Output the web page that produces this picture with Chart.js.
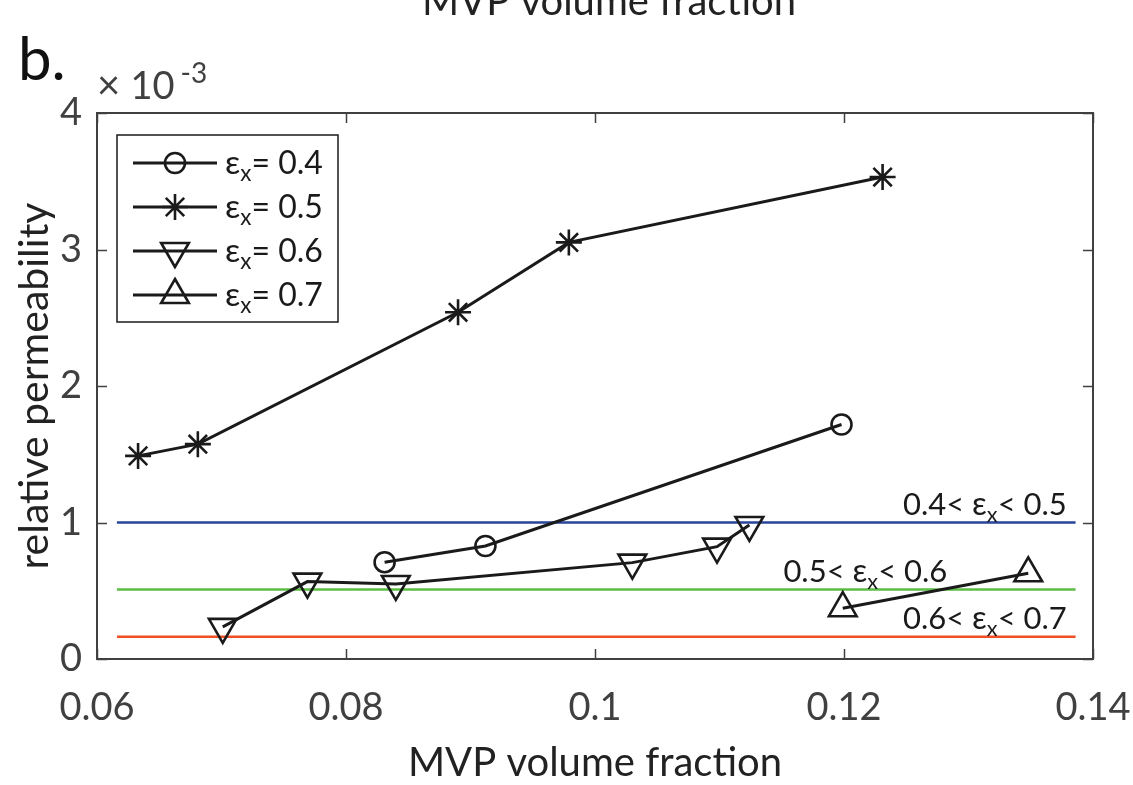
<!DOCTYPE html>
<html>
<head>
<meta charset="utf-8">
<script src="https://cdn.jsdelivr.net/npm/chart.js@4"></script>
<style>
html, body { margin: 0; padding: 0; background: #fff; }
</style>
</head>
<body>
<canvas id="grafico" width="1133" height="785"></canvas>
<script>
// dados (permeabilidade relativa em unidades de 1e-3)
const epsValores = [0.4, 0.5, 0.6, 0.7];

const xEps04 = [0.0831, 0.0912, 0.1198];
const yEps04 = [0.709, 0.828, 1.718];

const xEps05 = [0.0633, 0.0681, 0.0890, 0.0979, 0.1231];
const yEps05 = [1.488, 1.574, 2.54, 3.052, 3.531];

const xEps06 = [0.0701, 0.0769, 0.0840, 0.1030, 0.1098, 0.1124];
const yEps06 = [0.235, 0.567, 0.55, 0.706, 0.823, 0.982];

const xEps07 = [0.1199, 0.1348];
const yEps07 = [0.372, 0.628];

// limites horizontais
const limiteValores = [1.0, 0.51, 0.163];
const limiteCores = ['#25449a', '#5cbd45', '#f04e26'];
const limiteFaixas = [['0.4', '0.5'], ['0.5', '0.6'], ['0.6', '0.7']];
const limiteX = [0.0616, 0.1386];

const xTicks = [0.06, 0.08, 0.1, 0.12, 0.14];
const yTicks = [0, 1, 2, 3, 4];

const FONTE = 'Lato, "Open Sans", sans-serif';
const CINZA = '#404040';

function pontos(xs, ys) {
  return xs.map((x, i) => ({ x: x, y: ys[i] }));
}

const series = [
  { data: pontos(xEps04, yEps04), estilo: 'circle', raio: 10, rot: 0 },
  { data: pontos(xEps05, yEps05), estilo: 'star', raio: 13, rot: 0 },
  { data: pontos(xEps06, yEps06), estilo: 'triangle', raio: 16, rot: 180 },
  { data: pontos(xEps07, yEps07), estilo: 'triangle', raio: 16, rot: 0 }
];

const datasets = series.map((s, i) => ({
  label: 'eps ' + epsValores[i],
  data: s.data,
  showLine: true,
  borderColor: '#1a1a1a',
  borderWidth: 3,
  pointStyle: s.estilo,
  pointRadius: s.raio,
  pointRotation: s.rot,
  pointBorderWidth: 2.6,
  pointBorderColor: '#1a1a1a',
  pointBackgroundColor: 'rgba(255,255,255,0)'
}));

limiteValores.forEach((v, i) => {
  datasets.push({
    label: 'limite ' + i,
    data: limiteX.map(x => ({ x: x, y: v })),
    showLine: true,
    borderColor: limiteCores[i],
    borderWidth: 2.5,
    pointRadius: 0
  });
});

// desenha texto com subscrito "x" depois do epsilon
function textoEps(ctx, antes, depois, x, y, tam, alinhar) {
  const partes = [
    { t: antes, f: tam, dy: 0 },
    { t: '\u03b5', f: tam * 1.05, dy: 0 },
    { t: 'x', f: tam * 0.7, dy: tam * 0.22 },
    { t: depois, f: tam, dy: 0 }
  ];
  let total = 0;
  partes.forEach(p => {
    ctx.font = p.f + 'px ' + FONTE;
    p.w = ctx.measureText(p.t).width;
    total += p.w;
  });
  let cx = alinhar === 'right' ? x - total : x;
  ctx.textAlign = 'left';
  ctx.textBaseline = 'alphabetic';
  partes.forEach(p => {
    ctx.font = p.f + 'px ' + FONTE;
    ctx.fillText(p.t, cx, y + p.dy);
    cx += p.w;
  });
}

function marcador(ctx, estilo, rot, raio, x, y) {
  ctx.save();
  ctx.translate(x, y);
  ctx.rotate(rot * Math.PI / 180);
  ctx.beginPath();
  if (estilo === 'circle') {
    ctx.arc(0, 0, raio, 0, Math.PI * 2);
  } else if (estilo === 'triangle') {
    for (let k = 0; k < 3; k++) {
      const a = k * 2 * Math.PI / 3;
      const px = Math.sin(a) * raio, py = -Math.cos(a) * raio;
      if (k === 0) ctx.moveTo(px, py); else ctx.lineTo(px, py);
    }
    ctx.closePath();
  } else {
    for (let k = 0; k < 4; k++) {
      const a = k * Math.PI / 4;
      ctx.moveTo(Math.cos(a) * raio, Math.sin(a) * raio);
      ctx.lineTo(-Math.cos(a) * raio, -Math.sin(a) * raio);
    }
  }
  ctx.stroke();
  ctx.restore();
}

const extras = {
  id: 'extras',
  afterDraw(chart) {
    const ctx = chart.ctx;
    const area = chart.chartArea;
    const sx = chart.scales.x, sy = chart.scales.y;
    ctx.save();

    // caixa do eixo
    ctx.strokeStyle = CINZA;
    ctx.lineWidth = 2;
    ctx.strokeRect(area.left, area.top, area.right - area.left, area.bottom - area.top);

    // marcas dos ticks para dentro
    ctx.beginPath();
    xTicks.forEach(v => {
      const px = Math.round(sx.getPixelForValue(v)) + 0.5;
      ctx.moveTo(px, area.bottom); ctx.lineTo(px, area.bottom - 10);
      ctx.moveTo(px, area.top); ctx.lineTo(px, area.top + 10);
    });
    yTicks.forEach(v => {
      const py = Math.round(sy.getPixelForValue(v)) + 0.5;
      ctx.moveTo(area.left, py); ctx.lineTo(area.left + 10, py);
      ctx.moveTo(area.right, py); ctx.lineTo(area.right - 10, py);
    });
    ctx.lineWidth = 1.5;
    ctx.stroke();

    // rotulos das faixas
    ctx.fillStyle = '#1a1a1a';
    const rotulos = [
      { x: 0.1379, y: 1.056 },
      { x: 0.1283, y: 0.565 },
      { x: 0.1379, y: 0.22 }
    ];
    rotulos.forEach((r, i) => {
      textoEps(ctx, limiteFaixas[i][0] + '< ', '< ' + limiteFaixas[i][1],
        sx.getPixelForValue(r.x), sy.getPixelForValue(r.y), 31, 'right');
    });

    // legenda
    const lx = area.left + 20, ly = area.top + 22;
    ctx.fillStyle = '#fff';
    ctx.fillRect(lx, ly, 221, 187);
    ctx.strokeStyle = '#1a1a1a';
    ctx.lineWidth = 1.5;
    ctx.strokeRect(lx, ly, 221, 187);
    series.forEach((s, i) => {
      const yy = ly + 28 + i * 44;
      ctx.strokeStyle = '#1a1a1a';
      ctx.lineWidth = 3;
      ctx.beginPath();
      ctx.moveTo(lx + 16, yy); ctx.lineTo(lx + 100, yy);
      ctx.stroke();
      ctx.lineWidth = 2.6;
      marcador(ctx, s.estilo, s.rot, s.raio, lx + 58, yy);
      ctx.fillStyle = '#1a1a1a';
      textoEps(ctx, '', '= ' + epsValores[i], lx + 108, yy + 11, 32, 'left');
    });

    // multiplicador do eixo y
    ctx.fillStyle = CINZA;
    ctx.textAlign = 'left';
    ctx.textBaseline = 'alphabetic';
    ctx.font = '40px ' + FONTE;
    ctx.fillText('\u00d7', area.left, area.top - 14);
    const wx = ctx.measureText('\u00d7 ').width;
    ctx.font = '38px ' + FONTE;
    ctx.fillText('10', area.left + wx, area.top - 14);
    const w10 = ctx.measureText('10').width;
    ctx.font = '28px ' + FONTE;
    ctx.fillText('-3', area.left + wx + w10 + 6, area.top - 30);

    // letra do painel e titulo cortado no topo
    ctx.fillStyle = '#111';
    ctx.font = '60px ' + FONTE;
    ctx.fillText('b.', 18, 80);
    ctx.textAlign = 'center';
    ctx.font = '40px ' + FONTE;
    ctx.fillStyle = '#222';
    ctx.fillText('MVP volume fraction', 609, 15);

    ctx.restore();
  }
};

new Chart(document.getElementById('grafico').getContext('2d'), {
  type: 'scatter',
  data: { datasets: datasets },
  options: {
    responsive: false,
    devicePixelRatio: 1,
    animation: false,
    layout: { padding: { top: 113, right: 40, left: 0, bottom: 0 } },
    plugins: { legend: { display: false }, tooltip: { enabled: false } },
    scales: {
      x: {
        type: 'linear',
        min: 0.06,
        max: 0.14,
        afterBuildTicks: s => { s.ticks = xTicks.map(v => ({ value: v })); },
        afterFit: s => { s.height = 126; s.paddingLeft = 0; s.paddingRight = 0; },
        grid: { display: false, drawTicks: false },
        border: { display: false },
        ticks: {
          color: CINZA,
          font: { family: FONTE, size: 38 },
          padding: 26,
          maxRotation: 0,
          callback: v => String(Number(v.toFixed(2)))
        },
        title: {
          display: true,
          text: 'MVP volume fraction',
          color: '#222',
          font: { family: FONTE, size: 40, lineHeight: 1 },
          padding: { top: 0, bottom: 2 }
        }
      },
      y: {
        type: 'linear',
        min: 0,
        max: 4,
        afterBuildTicks: s => { s.ticks = yTicks.map(v => ({ value: v })); },
        afterFit: s => { s.width = 97; s.paddingTop = 0; s.paddingBottom = 0; },
        grid: { display: false, drawTicks: false },
        border: { display: false },
        ticks: {
          color: CINZA,
          font: { family: FONTE, size: 38 },
          padding: 15
        },
        title: {
          display: true,
          text: 'relative permeability',
          color: '#222',
          font: { family: FONTE, size: 41, lineHeight: 1.2 },
          padding: { top: 10, bottom: 0 }
        }
      }
    }
  },
  plugins: [extras]
});
</script>
</body>
</html>
